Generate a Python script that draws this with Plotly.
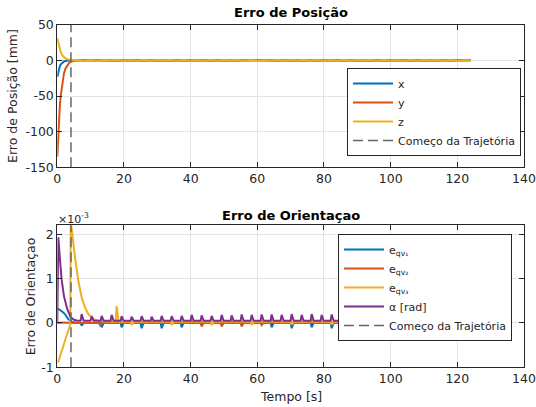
import plotly.graph_objects as go

W, H = 536, 407          # reference picture size

# ---------------- data: position error [mm] ----------------
pos_t_tr = [0, 0.25, 0.5, 0.75, 1.0, 1.5, 2.0, 2.5, 3.0, 3.5, 4.0, 5.0]
pos_x_tr = [-23, -17, -12, -8.5, -6, -3, -1.5, -0.8, -0.4, -0.2, -0.1, 0.0]
pos_y_tr = [-135, -105, -84, -65, -51, -32, -18, -11, -6.5, -4, -2, -0.5]
pos_z_tr = [31, 25, 20, 15.5, 12, 7, 4, 2.5, 1.5, 0.9, 0.5, 0.1]

pos_t_ss = list(range(6, 125, 2))  # steady-state sample times (6..124 s)
pos_z_ss = [0.6, -0.4, 0.5, -0.6, 0.4, -0.3, 0.6, -0.5, 0.3, -0.4,
            0.5, -0.6, 0.4, -0.3, 0.6, -0.5, 0.5, -0.4, 0.3, -0.6,
            0.6, -0.4, 0.5, -0.3, 0.4, -0.6, 0.6, -0.5, 0.3, -0.4,
            0.5, -0.6, 0.4, -0.3, 0.6, -0.5, 0.5, -0.4, 0.3, -0.6,
            0.6, -0.4, 0.5, -0.3, 0.4, -0.6, 0.6, -0.5, 0.3, -0.4,
            0.5, -0.6, 0.4, -0.3, 0.6, -0.5, 0.5, -0.4, 0.3, -0.2]
pos_y_ss = [-0.3, 0.2, -0.2, 0.3, -0.2, 0.2, -0.3, 0.2, -0.2, 0.3,
            -0.3, 0.2, -0.2, 0.3, -0.2, 0.2, -0.3, 0.2, -0.2, 0.3,
            -0.3, 0.2, -0.2, 0.3, -0.2, 0.2, -0.3, 0.2, -0.2, 0.3,
            -0.3, 0.2, -0.2, 0.3, -0.2, 0.2, -0.3, 0.2, -0.2, 0.3,
            -0.3, 0.2, -0.2, 0.3, -0.2, 0.2, -0.3, 0.2, -0.2, 0.3,
            -0.3, 0.2, -0.2, 0.3, -0.2, 0.2, -0.3, 0.2, -0.2, 0.1]
pos_x_ss = [0.1, -0.1, 0.1, -0.1, 0.1, -0.1, 0.1, -0.1, 0.1, -0.1,
            0.1, -0.1, 0.1, -0.1, 0.1, -0.1, 0.1, -0.1, 0.1, -0.1,
            0.1, -0.1, 0.1, -0.1, 0.1, -0.1, 0.1, -0.1, 0.1, -0.1,
            0.1, -0.1, 0.1, -0.1, 0.1, -0.1, 0.1, -0.1, 0.1, -0.1,
            0.1, -0.1, 0.1, -0.1, 0.1, -0.1, 0.1, -0.1, 0.1, -0.1,
            0.1, -0.1, 0.1, -0.1, 0.1, -0.1, 0.1, -0.1, 0.1, 0.0]

t_start_traj = 4.1  # "Começo da Trajetória"
t_end = 124

# tick labels (ASCII hyphen, as in the reference)
pos_tickvals = [-150, -100, -50, 0, 50]
pos_ticktext = ["-150", "-100", "-50", "0", "50"]
ori_tickvals = [-1, 0, 1, 2]
ori_ticktext = ["-1", "0", "1", "2"]

# ---------------- data: orientation error [x1e-3] ----------------
e1_t_tr = [0, 0.5, 1.0, 1.5, 2.3, 3.3, 4.5, 6.0]
e1_v_tr = [0.33, 0.31, 0.28, 0.25, 0.2, 0.08, 0.02, 0.0]
e1_base = 0.0
e1_spike_t = [7.3, 13.3, 19.3, 25.3, 31.3, 37.3, 64.3, 70.3, 76.3, 82.3,
              88.3, 94.3, 100.3, 106.3, 112.3, 118.3]
e1_spike_v = [-0.06, -0.1, -0.1, -0.12, -0.12, -0.1, -0.1, -0.12, -0.1, -0.12,
              -0.1, -0.1, -0.1, -0.1, -0.1, -0.1]

e2_t_tr = [0, 2.0, 4.0, 6.0]
e2_v_tr = [0.0, 0.01, 0.0, 0.0]
e2_base = 0.0
e2_spike_t = [12.8, 43.3, 49.3, 55.3, 61.3]
e2_spike_v = [-0.05, -0.08, -0.08, -0.08, -0.05]

e3_t_tr = [0, 0.3, 0.7, 1.3, 2.0, 2.8, 3.5, 3.9, 4.05, 4.2, 5.3, 6.3, 7.3,
           8.3, 9.3, 11.0, 13.0, 15.0]
e3_v_tr = [-0.89, -0.87, -0.78, -0.63, -0.45, -0.25, -0.12, -0.05, 2.7, 2.2,
           1.48, 0.95, 0.58, 0.35, 0.2, 0.08, 0.04, 0.03]
e3_base = 0.025
e3_spike_t = [17.8, 22.3, 28.3, 34.3, 40.3, 46.3, 52.3, 58.3, 64.3, 70.3,
              76.3, 82.3]
e3_spike_v = [0.38, -0.05, 0.08, -0.05, 0.08, -0.05, 0.08, -0.05, 0.08, -0.04,
              0.08, -0.04]

al_t_tr = [0, 0.1, 0.3, 0.8, 1.3, 2.0, 3.0, 4.0, 5.0, 6.0]
al_v_tr = [0.0, 1.5, 1.93, 1.43, 0.98, 0.6, 0.31, 0.13, 0.07, 0.05]
al_base = 0.05
al_spike_t = [7.3, 10.3, 13.3, 16.3, 19.3, 22.3, 25.3, 28.3, 31.3, 34.3,
              37.3, 40.3, 43.3, 46.3, 49.3, 52.3, 55.3, 58.3, 61.3, 64.3,
              67.3, 70.3, 73.3, 76.3, 79.3, 82.3, 85.3, 88.3, 91.3, 94.3,
              97.3, 100.3, 103.3, 106.3, 109.3, 112.3, 115.3, 118.3, 121.3]
al_spike_v = [0.2, 0.15, 0.16, 0.18, 0.15, 0.14, 0.15, 0.14, 0.16, 0.15,
              0.16, 0.18, 0.17, 0.16, 0.18, 0.17, 0.19, 0.18, 0.19, 0.19,
              0.18, 0.2, 0.18, 0.2, 0.18, 0.19, 0.18, 0.18, 0.18, 0.18,
              0.18, 0.18, 0.18, 0.18, 0.18, 0.18, 0.18, 0.18, 0.18]

C_BLUE, C_RED, C_YEL, C_PUR = "#0072BD", "#D95319", "#EDB120", "#7E2F8E"
C_DASH = "#666666"
AX = "#262626"
FONT = "DejaVu Sans"


def px_x(p):
    """reference pixel column -> paper fraction"""
    return p / W


def px_y(p):
    """reference pixel row -> paper fraction"""
    return 1 - p / H


def with_spikes(t_tr, v_tr, base, spike_t, spike_v, t_last):
    ts, vs = list(t_tr), list(v_tr)
    for st, sv in zip(spike_t, spike_v):
        ts += [st - 0.3, st, st + 0.6]
        vs += [base, sv, base]
    ts.append(t_last)
    vs.append(base)
    return ts, vs


fig = go.Figure()

# ---- top subplot ----
for name, tr, ss, col in [("x", pos_x_tr, pos_x_ss, C_BLUE),
                          ("y", pos_y_tr, pos_y_ss, C_RED),
                          ("z", pos_z_tr, pos_z_ss, C_YEL)]:
    fig.add_trace(go.Scatter(x=pos_t_tr + pos_t_ss, y=tr + ss, mode="lines",
                             name=name, line=dict(color=col, width=2),
                             xaxis="x", yaxis="y", legend="legend"))
fig.add_trace(go.Scatter(x=[t_start_traj, t_start_traj], y=[-150, 50], mode="lines",
                         name="Começo da Trajetória",
                         line=dict(color=C_DASH, width=1.5, dash="10px,5px"),
                         xaxis="x", yaxis="y", legend="legend"))

# ---- bottom subplot ----
series = [("e<sub>qv₁</sub>", e1_t_tr, e1_v_tr, e1_base, e1_spike_t, e1_spike_v, C_BLUE),
          ("e<sub>qv₂</sub>", e2_t_tr, e2_v_tr, e2_base, e2_spike_t, e2_spike_v, C_RED),
          ("e<sub>qv₃</sub>", e3_t_tr, e3_v_tr, e3_base, e3_spike_t, e3_spike_v, C_YEL),
          ("α [rad]", al_t_tr, al_v_tr, al_base, al_spike_t, al_spike_v, C_PUR)]
for name, ttr, vtr, base, stt, stv, col in series:
    ts, vs = with_spikes(ttr, vtr, base, stt, stv, t_end)
    fig.add_trace(go.Scatter(x=ts, y=vs, mode="lines", name=name,
                             line=dict(color=col, width=2),
                             xaxis="x2", yaxis="y2", legend="legend2"))
fig.add_trace(go.Scatter(x=[t_start_traj, t_start_traj], y=[-1, 2.2], mode="lines",
                         name="Começo da Trajetória",
                         line=dict(color=C_DASH, width=1.5, dash="10px,5px"),
                         xaxis="x2", yaxis="y2", legend="legend2"))

# ---- layout ----
xl, xr = px_x(57.3), px_x(524)
top_y0, top_y1 = px_y(167.3), px_y(24.7)
bot_y0, bot_y1 = px_y(367.3), px_y(225.3)

axis_common = dict(showline=True, linecolor=AX, linewidth=1, mirror="ticks",
                   ticks="inside", ticklen=5, tickcolor=AX, showgrid=True,
                   gridcolor="#e3e3e3", gridwidth=1, zeroline=False,
                   automargin=False,
                   tickfont=dict(family=FONT, size=12.5, color=AX))

legend_common = dict(bgcolor="white", bordercolor=AX, borderwidth=1, itemwidth=40,
                     font=dict(family=FONT, size=11, color=AX), tracegroupgap=0)

fig.update_layout(
    width=W, height=H, margin=dict(l=0, r=0, t=0, b=0, autoexpand=False),
    paper_bgcolor="white", plot_bgcolor="white",
    font=dict(family=FONT, color=AX),
    xaxis=dict(domain=[xl, xr], range=[0, 140], dtick=20, anchor="y", **axis_common),
    yaxis=dict(domain=[top_y0, top_y1], range=[-150, 50], tickvals=pos_tickvals,
               ticktext=pos_ticktext, anchor="x", **axis_common),
    xaxis2=dict(domain=[xl, xr], range=[0, 140], dtick=20, anchor="y2", **axis_common),
    yaxis2=dict(domain=[bot_y0, bot_y1], range=[-1, 2.2], tickvals=ori_tickvals,
                ticktext=ori_ticktext, anchor="x2", **axis_common),
    legend=dict(x=px_x(521), xanchor="right", y=px_y(68), yanchor="top",
                **legend_common),
    legend2=dict(x=px_x(512), xanchor="right", y=px_y(234), yanchor="top",
                 **legend_common),
    showlegend=True,
    annotations=[
        dict(text="<b>Erro de Posição</b>", x=px_x(290.7), y=px_y(13), xref="paper",
             yref="paper", showarrow=False, xanchor="center", yanchor="middle",
             font=dict(family=FONT, size=13, color="black")),
        dict(text="<b>Erro de Orientaçao</b>", x=px_x(290.7), y=px_y(215), xref="paper",
             yref="paper", showarrow=False, xanchor="center", yanchor="middle",
             font=dict(family=FONT, size=13, color="black")),
        dict(text="Erro de Posição [mm]", x=px_x(13), y=px_y(96), xref="paper",
             yref="paper", showarrow=False, textangle=-90, xanchor="center",
             yanchor="middle", font=dict(family=FONT, size=12.5, color=AX)),
        dict(text="Erro de Orientaçao", x=px_x(30), y=px_y(296.3), xref="paper",
             yref="paper", showarrow=False, textangle=-90, xanchor="center",
             yanchor="middle", font=dict(family=FONT, size=12.5, color=AX)),
        dict(text="Tempo [s]", x=px_x(290.7), y=px_y(396), xref="paper",
             yref="paper", showarrow=False, xanchor="center", yanchor="middle",
             font=dict(family=FONT, size=12.5, color=AX)),
        dict(text="×10<sup>-3</sup>", x=px_x(56), y=px_y(218), xref="paper",
             yref="paper", showarrow=False, xanchor="left", yanchor="middle",
             font=dict(family=FONT, size=11, color=AX)),
    ],
)

fig.write_html("out.html",
               config={"displayModeBar": False},
               post_script="document.body.style.margin='0px';"
                           "document.body.style.overflow='hidden';")
